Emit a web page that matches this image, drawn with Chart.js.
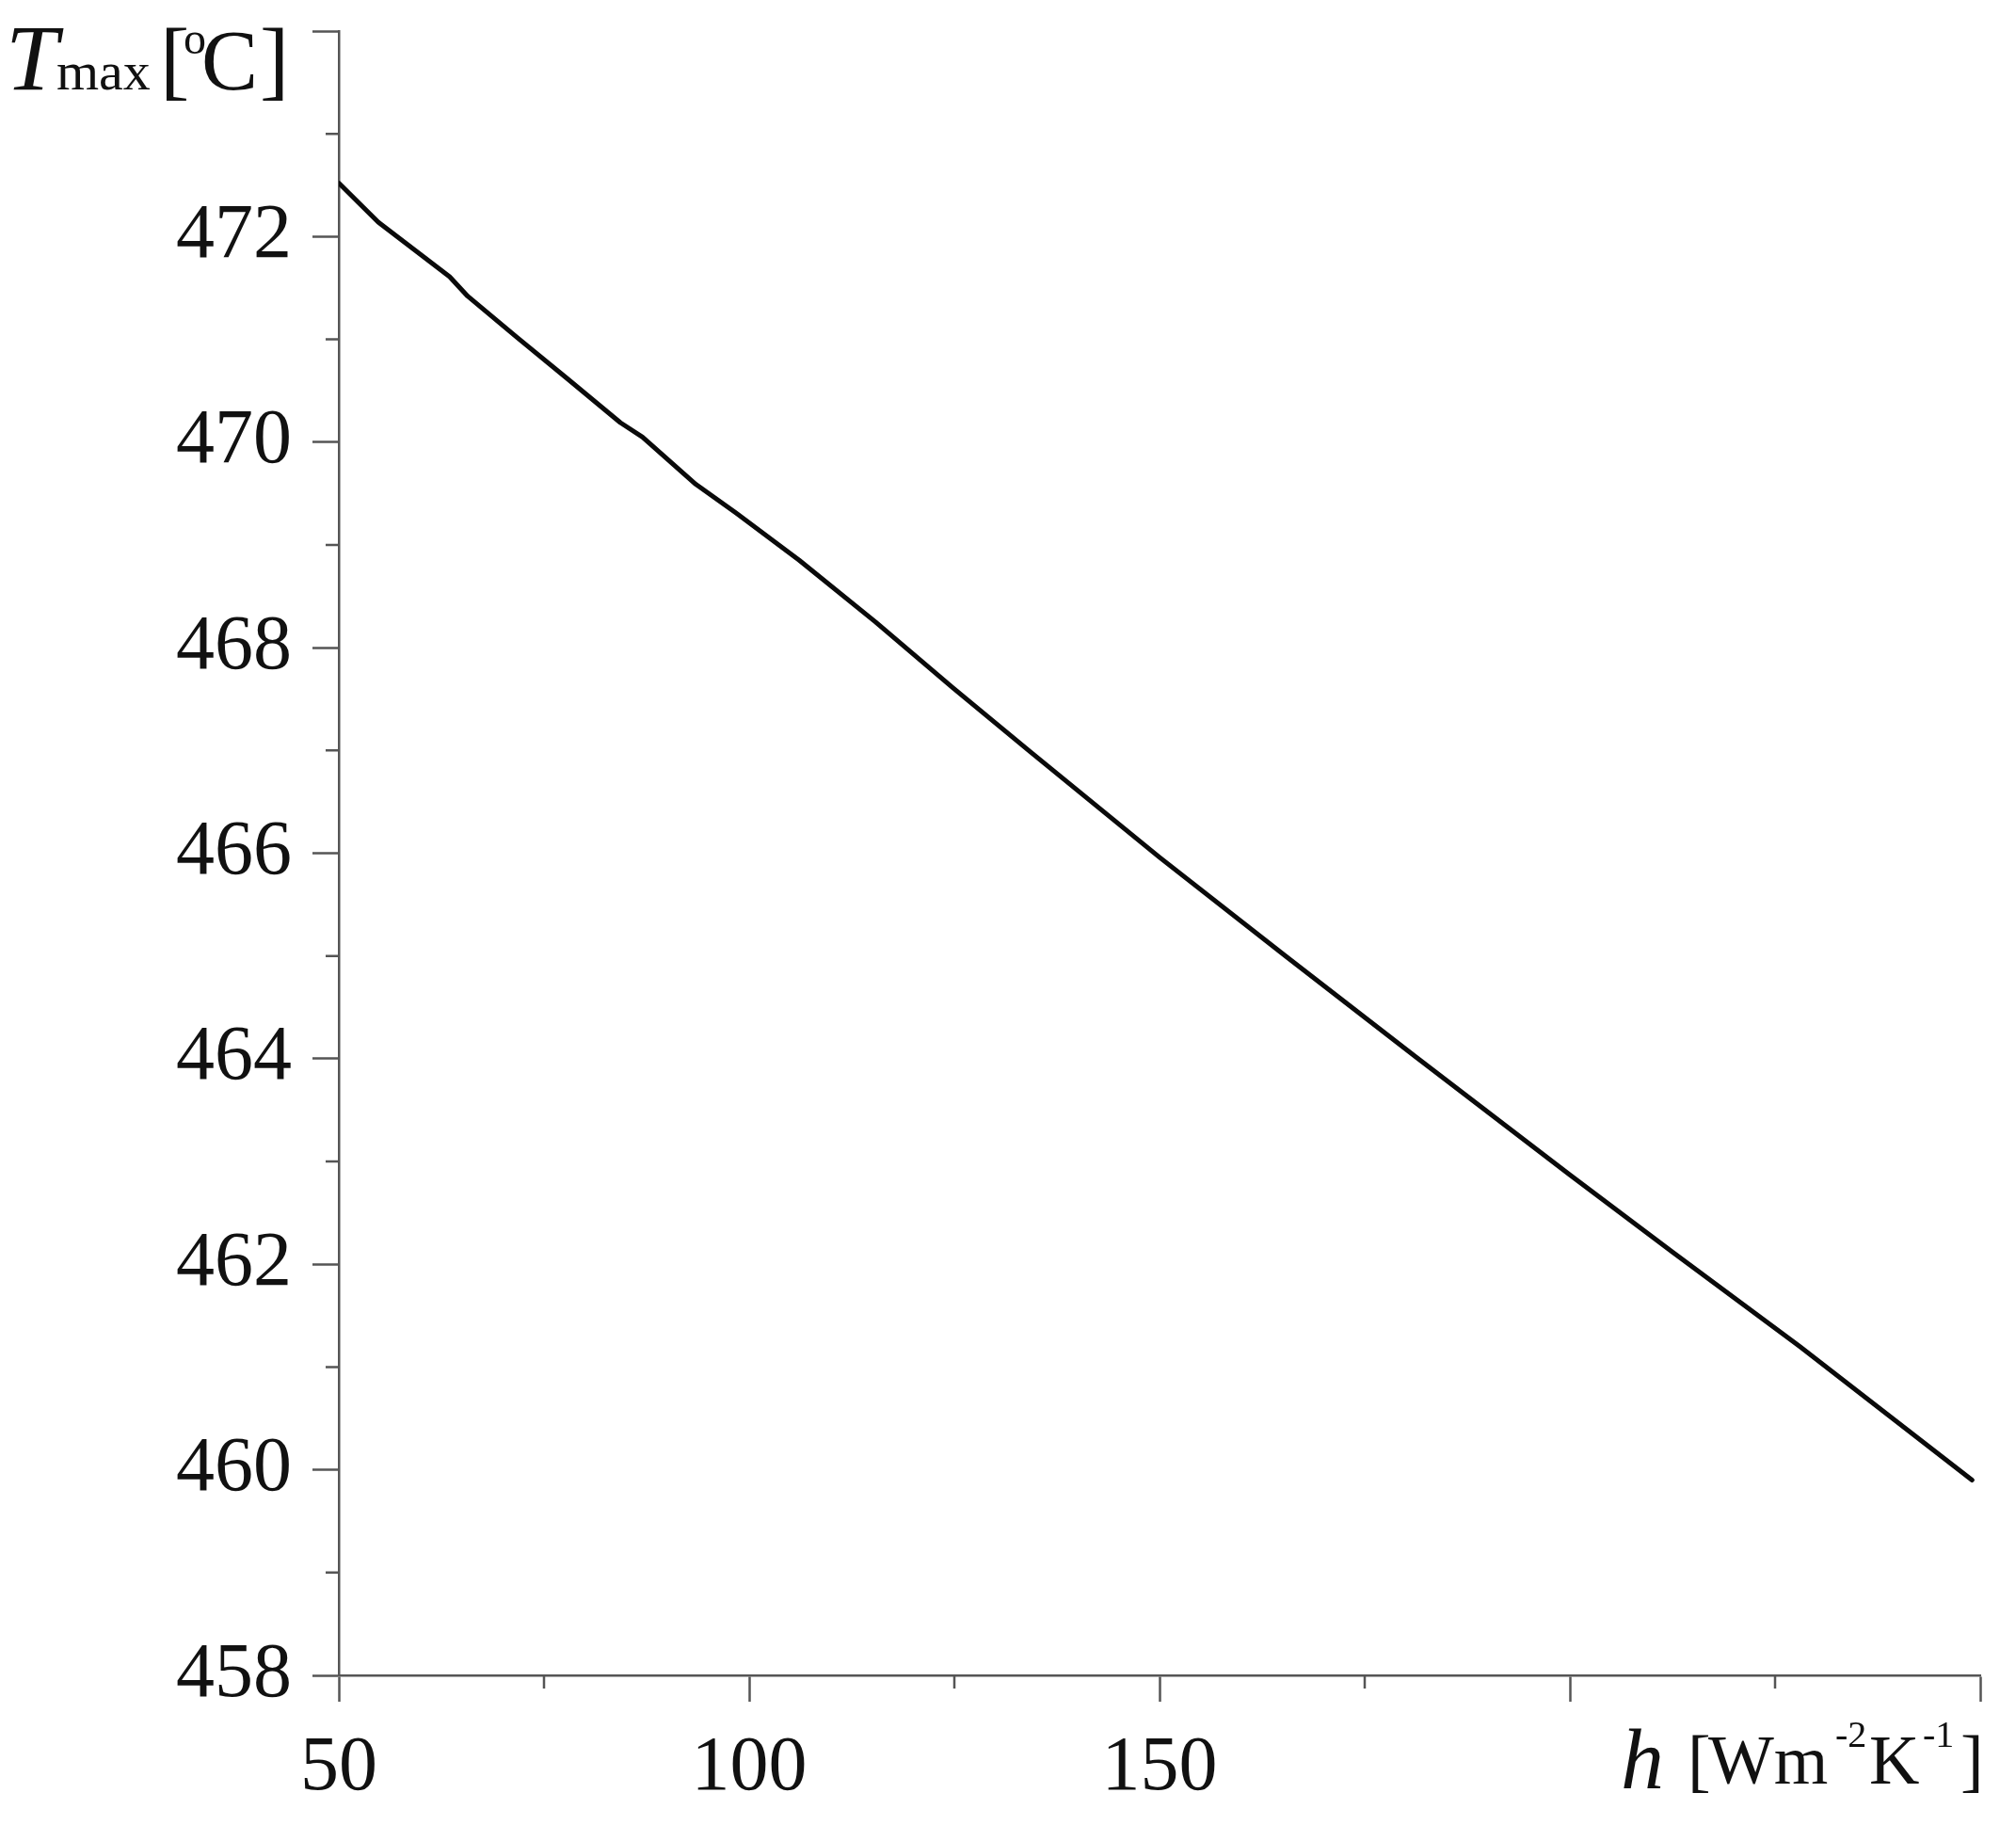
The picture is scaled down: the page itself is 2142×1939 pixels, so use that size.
<!DOCTYPE html>
<html>
<head>
<meta charset="utf-8">
<script src="https://cdn.jsdelivr.net/npm/chart.js@4.4.1/dist/chart.umd.min.js"></script>
<style>
	html, body { margin: 0; padding: 0; background: #fff; }
	#wrap { width: 2142px; height: 1939px; }
</style>
</head>
<body>
<div id="wrap"><canvas id="main_chart"></canvas></div>
<script>
// values
const hValues = [50, 54.8, 63.5, 65.7, 71.7, 77.8, 84.3, 87.0, 93.5, 98.4, 106.1, 115.4, 124.8, 134.2, 150, 165.5, 181.2, 200, 212.5, 228, 249]
const tMaxValues = [472.52, 472.14, 471.61, 471.42, 471.02, 470.62, 470.19, 470.05, 469.59, 469.31, 468.85, 468.25, 467.61, 466.99, 465.96, 464.99, 464.02, 462.87, 462.12, 461.20, 459.90]

// tick labels that are actually printed
const xTickLabels = [50, 100, 150]
const yTickLabels = [458, 460, 462, 464, 466, 468, 470, 472]
// unlabelled short ticks
const xMinorTicks = [75, 125, 175, 225]
const yMinorTicks = [459, 461, 463, 465, 467, 469, 471, 473]

const axisColor = '#555'
const textColor = '#111'
const serif = '"Liberation Serif", "Times New Roman", serif'

// short ticks and the two axis titles
const extras = {
	id: 'extras',
	afterDraw(chart) {
		const { ctx, scales } = chart
		const { x, y } = scales
		ctx.save()
		ctx.strokeStyle = axisColor
		ctx.lineWidth = 2.5
		ctx.beginPath()
		xMinorTicks.forEach(v => {
			const px = x.getPixelForValue(v)
			ctx.moveTo(px, x.top)
			ctx.lineTo(px, x.top + 14)
		})
		yMinorTicks.forEach(v => {
			const py = y.getPixelForValue(v)
			ctx.moveTo(y.right, py)
			ctx.lineTo(y.right - 14, py)
		})
		ctx.stroke()

		ctx.fillStyle = textColor
		ctx.textBaseline = 'alphabetic'
		ctx.textAlign = 'left'
		// y title: T_max [oC]
		ctx.font = `italic 100px ${serif}`
		ctx.fillText('T', 6, 95)
		ctx.font = `58px ${serif}`
		ctx.fillText('max', 60, 95)
		ctx.font = `94px ${serif}`
		ctx.fillText('[', 170, 95)
		ctx.font = `48px ${serif}`
		ctx.fillText('o', 195, 57)
		ctx.font = `90px ${serif}`
		ctx.fillText('C', 214, 95)
		ctx.font = `94px ${serif}`
		ctx.fillText(']', 276, 95)

		// x title: h [Wm-2K-1]
		ctx.font = `italic 92px ${serif}`
		ctx.fillText('h', 1722, 1900)
		ctx.font = `74px ${serif}`
		ctx.fillText('[', 1793, 1895)
		ctx.fillText('Wm', 1815, 1895)
		ctx.font = `40px ${serif}`
		ctx.fillText('-2', 1950, 1856)
		ctx.font = `74px ${serif}`
		ctx.fillText('K', 1986, 1895)
		ctx.font = `40px ${serif}`
		ctx.fillText('-1', 2043, 1856)
		ctx.font = `74px ${serif}`
		ctx.fillText(']', 2083, 1895)
		ctx.restore()
	},
}

function zeroPadding(scale) {
	scale.paddingTop = 0
	scale.paddingBottom = 0
	scale.paddingLeft = 0
	scale.paddingRight = 0
}

new Chart(document.getElementById('main_chart'), {
	type: 'line',
	data: {
		datasets: [
			{
				data: hValues.map((h, i) => ({ x: h, y: tMaxValues[i] })),
				borderColor: '#0a0a0a',
				borderWidth: 5,
				borderJoinStyle: 'round',
				borderCapStyle: 'round',
				pointRadius: 0,
				tension: 0,
				fill: false,
			},
		],
	},
	options: {
		responsive: true,
		maintainAspectRatio: false,
		animation: false,
		layout: { padding: { top: 33, right: 38, left: 0, bottom: 0 } },
		plugins: { legend: false, tooltip: { enabled: false } },
		scales: {
			x: {
				type: 'linear',
				min: 50,
				max: 250,
				afterFit(scale) {
					scale.height = 159
					zeroPadding(scale)
				},
				ticks: {
					stepSize: 50,
					padding: 22,
					color: textColor,
					font: { family: serif, size: 82 },
					maxRotation: 0,
					autoSkip: false,
					callback: v => (xTickLabels.includes(v) ? String(v) : ''),
				},
				grid: {
					drawOnChartArea: false,
					drawTicks: true,
					tickLength: 28,
					tickWidth: 2.5,
					tickColor: axisColor,
				},
				border: { color: axisColor, width: 2.5 },
			},
			y: {
				min: 458,
				max: 474,
				afterFit(scale) {
					scale.width = 360
					zeroPadding(scale)
				},
				ticks: {
					stepSize: 2,
					padding: 22,
					color: textColor,
					font: { family: serif, size: 82 },
					autoSkip: false,
					callback: v => (yTickLabels.includes(v) ? String(v) : ''),
				},
				grid: {
					drawOnChartArea: false,
					drawTicks: true,
					tickLength: 28,
					tickWidth: 2.5,
					tickColor: axisColor,
				},
				border: { color: axisColor, width: 2.5 },
			},
		},
	},
	plugins: [extras],
})
</script>
</body>
</html>
